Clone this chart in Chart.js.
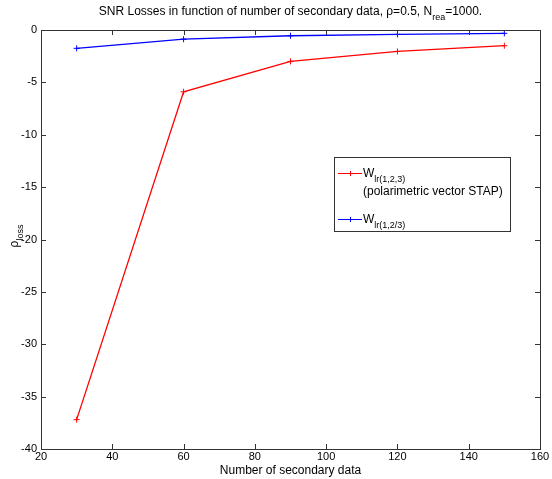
<!DOCTYPE html>
<html>
<head>
<meta charset="utf-8">
<script src="https://cdn.jsdelivr.net/npm/chart.js@4"></script>
<style>
  html, body { margin: 0; padding: 0; background: #fff; }
  #wrap { width: 552px; height: 479px; position: relative; }
</style>
</head>
<body>
<div id="wrap"><canvas id="lossChart" width="552" height="479"></canvas></div>
<script>
// data
const secondaryData = [30, 60, 90, 120, 150];
const lossFull = [-37.2, -5.9, -3.0, -2.05, -1.5];      // W lr(1,2,3)
const lossPartial = [-1.75, -0.88, -0.55, -0.42, -0.32]; // W lr(1,2/3)
const xTicks = [20, 40, 60, 80, 100, 120, 140, 160];
const yTicks = [0, -5, -10, -15, -20, -25, -30, -35, -40];

const FONT = "Liberation Sans, Arial, sans-serif";

// text with subscripts: parts = [[text, isSub], ...]
function textWidth(ctx, parts, size) {
    let w = 0;
    parts.forEach(p => {
        ctx.font = (p[1] ? size * 0.75 : size) + "px " + FONT;
        w += ctx.measureText(p[0]).width;
    });
    return w;
}
function drawSub(ctx, parts, x, y, size) {
    ctx.textAlign = "left";
    ctx.textBaseline = "alphabetic";
    parts.forEach(p => {
        const s = p[1] ? size * 0.75 : size;
        ctx.font = s + "px " + FONT;
        ctx.fillText(p[0], x, p[1] ? y + size * 0.4 : y);
        x += ctx.measureText(p[0]).width;
    });
}

const matlabLook = {
    id: "matlabLook",
    afterDraw(chart) {
        const ctx = chart.ctx;
        const a = chart.chartArea;
        const xs = chart.scales.x, ys = chart.scales.y;
        ctx.save();
        ctx.strokeStyle = "#333";
        ctx.lineWidth = 1;
        ctx.strokeRect(Math.round(a.left) + 0.5, Math.round(a.top) + 0.5,
            Math.round(a.right - a.left), Math.round(a.bottom - a.top));
        ctx.beginPath();
        xTicks.forEach(v => {
            const px = Math.round(xs.getPixelForValue(v)) + 0.5;
            ctx.moveTo(px, a.bottom); ctx.lineTo(px, a.bottom - 5);
            ctx.moveTo(px, a.top); ctx.lineTo(px, a.top + 5);
        });
        yTicks.forEach(v => {
            const py = Math.round(ys.getPixelForValue(v)) + 0.5;
            ctx.moveTo(a.left, py); ctx.lineTo(a.left + 5, py);
            ctx.moveTo(a.right, py); ctx.lineTo(a.right - 5, py);
        });
        ctx.stroke();

        ctx.fillStyle = "#000";
        // tick labels
        ctx.font = "11px " + FONT;
        ctx.textAlign = "center";
        ctx.textBaseline = "top";
        xTicks.forEach(v => ctx.fillText(String(v), xs.getPixelForValue(v), a.bottom + 2));
        ctx.textAlign = "right";
        ctx.textBaseline = "middle";
        yTicks.forEach(v => ctx.fillText(String(v), a.left - 4, ys.getPixelForValue(v)));

        // x axis title
        ctx.font = "12px " + FONT;
        ctx.textAlign = "center";
        ctx.textBaseline = "alphabetic";
        ctx.fillText("Number of secondary data", (a.left + a.right) / 2, 474);

        // y axis title (rotated)
        ctx.save();
        ctx.translate(18, 236);
        ctx.rotate(-Math.PI / 2);
        const yl = [["\u03c1", false], ["loss", true]];
        drawSub(ctx, yl, -textWidth(ctx, yl, 12) / 2, 0, 12);
        ctx.restore();

        // title
        const tl = [["SNR Losses in function of number of secondary data, \u03c1=0.5, N", false],
                    ["rea", true], ["=1000.", false]];
        drawSub(ctx, tl, (a.left + a.right) / 2 - textWidth(ctx, tl, 12) / 2, 15, 12);

        // legend box
        const lx = 334, ly = 157, lw = 176, lh = 74;
        ctx.fillStyle = "#fff";
        ctx.fillRect(lx, ly, lw, lh);
        ctx.strokeStyle = "#333";
        ctx.strokeRect(lx + 0.5, ly + 0.5, lw, lh);
        const items = [
            { color: "#ff0000", y: 173, label: [["W", false], ["lr(1,2,3)", true]], extra: "(polarimetric vector STAP)" },
            { color: "#0000ff", y: 219, label: [["W", false], ["lr(1,2/3)", true]] }
        ];
        items.forEach(it => {
            ctx.strokeStyle = it.color;
            ctx.beginPath();
            ctx.moveTo(338, it.y + 0.5); ctx.lineTo(362, it.y + 0.5);
            ctx.moveTo(350.5, it.y - 2); ctx.lineTo(350.5, it.y + 3);
            ctx.stroke();
            ctx.fillStyle = "#000";
            drawSub(ctx, it.label, 363, it.y + 4, 12);
            if (it.extra) {
                ctx.font = "12px " + FONT;
                ctx.fillText(it.extra, 363, it.y + 22);
            }
        });
        ctx.restore();
    }
};

new Chart(document.getElementById("lossChart").getContext("2d"), {
    type: "line",
    data: {
        labels: secondaryData,
        datasets: [
            {
                label: "W lr(1,2,3)",
                data: secondaryData.map((x, i) => ({ x: x, y: lossFull[i] })),
                borderColor: "#ff0000",
                backgroundColor: "#ff0000",
                borderWidth: 1.3,
                pointStyle: "cross",
                pointRadius: 3,
                pointBorderWidth: 1,
                tension: 0
            },
            {
                label: "W lr(1,2/3)",
                data: secondaryData.map((x, i) => ({ x: x, y: lossPartial[i] })),
                borderColor: "#0000ff",
                backgroundColor: "#0000ff",
                borderWidth: 1.3,
                pointStyle: "cross",
                pointRadius: 3,
                pointBorderWidth: 1,
                tension: 0
            }
        ]
    },
    options: {
        responsive: false,
        animation: false,
        clip: false,
        layout: { padding: { left: 0, right: 12, top: 30, bottom: 0 } },
        plugins: {
            legend: { display: false },
            tooltip: { enabled: false }
        },
        scales: {
            x: {
                type: "linear",
                min: 20, max: 160,
                grid: { display: false },
                border: { display: false },
                ticks: { display: false },
                afterFit: s => { s.height = 30; }
            },
            y: {
                type: "linear",
                min: -40, max: 0,
                grid: { display: false },
                border: { display: false },
                ticks: { display: false },
                afterFit: s => { s.width = 41; }
            }
        }
    },
    plugins: [matlabLook]
});
</script>
</body>
</html>
